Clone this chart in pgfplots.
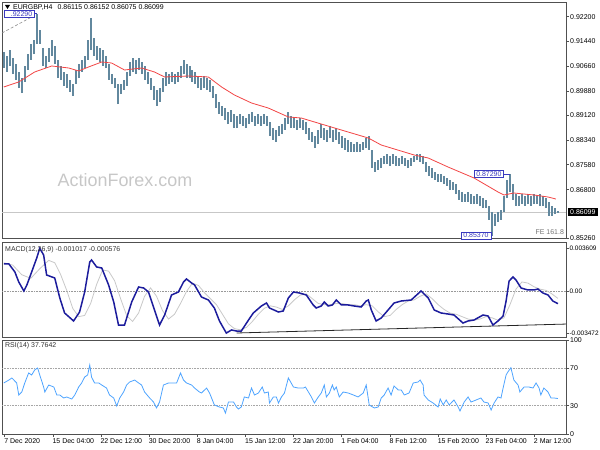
\documentclass[border=0pt]{standalone}
\usepackage{pgfplots}
\pgfplotsset{compat=1.18}
\usepackage{pgfplotstable}
\usepackage{fontspec}
\setmainfont{Liberation Sans}
\definecolor{barcol}{HTML}{62889E}
\definecolor{macol}{HTML}{F24545}
\definecolor{macdcol}{HTML}{1C1C9C}
\definecolor{sigcol}{HTML}{C8C8C8}
\definecolor{rsicol}{HTML}{4DA3FF}
\definecolor{annot}{HTML}{3A3AC0}
\definecolor{framecol}{HTML}{505050}

\pgfplotstableread{
i h l
0 0.91098 0.90598
1 0.90973 0.90474
2 0.91160 0.90661
3 0.90910 0.90411
4 0.90723 0.90224
5 0.90474 0.89974
6 0.90286 0.89818
7 0.90661 0.90162
8 0.91035 0.90536
9 0.91347 0.90848
10 0.91472 0.91035
11 0.92290 0.91347
12 0.91784 0.91347
13 0.91222 0.90661
14 0.90973 0.90598
15 0.91222 0.90786
16 0.91472 0.90973
17 0.91285 0.90723
18 0.90848 0.90286
19 0.90661 0.90224
20 0.90474 0.90037
21 0.90411 0.89974
22 0.90224 0.89850
23 0.90099 0.89725
24 0.90536 0.90099
25 0.90723 0.90286
26 0.90848 0.90474
27 0.90973 0.90598
28 0.91472 0.90848
29 0.92158 0.91160
30 0.91534 0.90973
31 0.91285 0.90848
32 0.91222 0.90786
33 0.91160 0.90661
34 0.90973 0.90598
35 0.90723 0.90224
36 0.90411 0.90099
37 0.90286 0.89974
38 0.90099 0.89475
39 0.90099 0.89787
40 0.90224 0.89912
41 0.90474 0.90037
42 0.90786 0.90349
43 0.90910 0.90474
44 0.90848 0.90411
45 0.90910 0.90536
46 0.90786 0.90411
47 0.90661 0.90224
48 0.90474 0.90099
49 0.90286 0.89912
50 0.90037 0.89600
51 0.89912 0.89413
52 0.89974 0.89538
53 0.90286 0.89850
54 0.90474 0.90037
55 0.90411 0.90099
56 0.90474 0.90162
57 0.90411 0.90099
58 0.90474 0.90162
59 0.90661 0.90286
60 0.90848 0.90411
61 0.90723 0.90286
62 0.90661 0.90286
63 0.90536 0.90162
64 0.90474 0.90099
65 0.90349 0.89974
66 0.90286 0.89912
67 0.90349 0.89974
68 0.90286 0.89912
69 0.90224 0.89850
70 0.90037 0.89662
71 0.89787 0.89350
72 0.89538 0.89163
73 0.89413 0.89101
74 0.89350 0.88976
75 0.89226 0.88851
76 0.89288 0.88914
77 0.89163 0.88726
78 0.89101 0.88726
79 0.89163 0.88851
80 0.89101 0.88789
81 0.89038 0.88726
82 0.89163 0.88851
83 0.89226 0.88914
84 0.89101 0.88789
85 0.89163 0.88851
86 0.89101 0.88789
87 0.89163 0.88851
88 0.89101 0.88789
89 0.88914 0.88477
90 0.88726 0.88352
91 0.88664 0.88290
92 0.88789 0.88477
93 0.88851 0.88539
94 0.89038 0.88664
95 0.89226 0.88851
96 0.89101 0.88726
97 0.89038 0.88726
98 0.88976 0.88664
99 0.89038 0.88726
100 0.88976 0.88664
101 0.88914 0.88539
102 0.88726 0.88352
103 0.88602 0.88290
104 0.88477 0.88102
105 0.88664 0.88227
106 0.88851 0.88414
107 0.88726 0.88352
108 0.88664 0.88290
109 0.88789 0.88414
110 0.88664 0.88290
111 0.88726 0.88352
112 0.88602 0.88227
113 0.88477 0.88102
114 0.88414 0.88040
115 0.88352 0.87978
116 0.88290 0.87978
117 0.88227 0.87978
118 0.88290 0.87978
119 0.88227 0.87978
120 0.88290 0.88040
121 0.88414 0.88102
122 0.88477 0.88040
123 0.88040 0.87478
124 0.87666 0.87354
125 0.87728 0.87416
126 0.87790 0.87478
127 0.87853 0.87603
128 0.87915 0.87603
129 0.87853 0.87541
130 0.87915 0.87603
131 0.87853 0.87541
132 0.87790 0.87541
133 0.87853 0.87603
134 0.87790 0.87541
135 0.87728 0.87478
136 0.87790 0.87541
137 0.87853 0.87666
138 0.87915 0.87728
139 0.87915 0.87666
140 0.87853 0.87603
141 0.87666 0.87354
142 0.87541 0.87229
143 0.87478 0.87166
144 0.87354 0.87104
145 0.87291 0.87042
146 0.87291 0.87042
147 0.87229 0.86979
148 0.87166 0.86917
149 0.87104 0.86792
150 0.87042 0.86792
151 0.86979 0.86667
152 0.86792 0.86480
153 0.86730 0.86418
154 0.86667 0.86418
155 0.86730 0.86418
156 0.86667 0.86355
157 0.86605 0.86355
158 0.86667 0.86355
159 0.86605 0.86293
160 0.86542 0.86230
161 0.86480 0.86230
162 0.86293 0.85856
163 0.86106 0.85370
164 0.86043 0.85669
165 0.86106 0.85794
166 0.86168 0.85856
167 0.86605 0.86106
168 0.87104 0.86542
169 0.87290 0.86730
170 0.86979 0.86480
171 0.86667 0.86293
172 0.86605 0.86293
173 0.86667 0.86355
174 0.86605 0.86293
175 0.86667 0.86355
176 0.86605 0.86293
177 0.86667 0.86355
178 0.86605 0.86355
179 0.86667 0.86293
180 0.86605 0.86293
181 0.86542 0.86230
182 0.86418 0.85981
183 0.86293 0.85981
184 0.86230 0.86043
185 0.86152 0.86075
}\pricedata

\pgfplotstableread{
i v
0 0.90006
5 0.90162
10.3 0.90474
16 0.90661
21.7 0.90598
25 0.90505
28.3 0.90630
32.7 0.90786
36 0.90754
40.3 0.90536
46 0.90598
50.3 0.90474
53.7 0.90318
61.7 0.90349
68.3 0.90318
72.7 0.90006
77 0.89756
82.7 0.89506
88.3 0.89350
95 0.89070
99.3 0.89038
109.3 0.88758
121.7 0.88414
126 0.88196
137 0.87884
141.7 0.87790
148.3 0.87510
157 0.87166
165 0.86730
167 0.86636
170.3 0.86698
177 0.86636
181.7 0.86574
184.3 0.86511
}\madata

\pgfplotstableread{
i v
0 0.002297
1.7 0.002297
3.7 0.001629
5 0.000794
6.7 0.000042
7.7 0.000543
9.3 0.001629
11 0.002799
12 0.003609
13.3 0.003049
14.3 0.001378
17 0.001128
18.7 -0.000543
20.3 -0.001796
23.3 -0.002464
25.3 -0.001713
27 -0.000042
28.7 0.002464
29.3 0.002632
31 0.002047
32.7 0.001963
35 0.000543
36.7 -0.000877
38.3 -0.002799
40.3 -0.002799
42.7 -0.000877
45 0.000376
46.7 0.000292
48.3 -0.000042
50.3 -0.001545
52 -0.002799
53.7 -0.001963
56 -0.000292
58.3 -0.000042
60 0.000794
61 0.001044
62.7 0.000710
63.7 0.000543
66 -0.000459
68.3 -0.000710
70.3 -0.001378
72 -0.002464
74.3 -0.003472
76 -0.003216
77.7 -0.003300
79.3 -0.003300
81.7 -0.002381
83.3 -0.001796
86 -0.001211
87.7 -0.000961
88.7 -0.001378
91.7 -0.001713
93.3 -0.001629
95 -0.000543
96.7 -0.000042
98.7 -0.000125
101 -0.000292
103.3 -0.001128
104.3 -0.001378
106 -0.001211
107 -0.000877
108.3 -0.001211
109.7 -0.001128
111 -0.000710
112.7 -0.001128
115 -0.001128
117 -0.001211
119.3 -0.001295
121 -0.000794
121.7 -0.000710
122.7 -0.001545
124.3 -0.002464
126 -0.002214
128.3 -0.001545
130.3 -0.000961
132.7 -0.000794
136 -0.000710
139.3 0.000042
141.7 -0.000543
143.7 -0.001545
146 -0.001796
148.3 -0.001880
150.3 -0.001963
153.3 -0.002632
155 -0.002464
157 -0.002381
160 -0.001963
161.7 -0.002047
163.3 -0.002799
165 -0.002464
166.7 -0.002047
167.7 -0.000794
168.7 0.000877
170 0.001211
171 0.000961
172.7 0.000292
175 0.000125
177 0.000125
178.3 0.000209
180 -0.000125
181.7 -0.000292
183.3 -0.000794
185 -0.001017
}\macddata

\pgfplotstableread{
i v
0 0.0024
3 0.0022
6 0.0014
9 0.0011
12 0.0019
15 0.0026
17 0.0024
19 0.0014
21 0.0001
23 -0.0014
25 -0.0021
27 -0.0020
29 -0.0010
31 0.0006
33 0.0018
35 0.0017
37 0.0009
39 -0.0006
41 -0.0020
43 -0.0025
45 -0.0018
47 -0.0004
49 0.0003
51 -0.0004
53 -0.0016
55 -0.0023
57 -0.0019
59 -0.0010
61 0.0000
63 0.0007
65 0.0005
67 -0.0001
69 -0.0006
71 -0.0011
73 -0.0019
75 -0.0027
77 -0.0031
79 -0.0032
81 -0.0030
83 -0.0025
85 -0.0019
87 -0.0014
89 -0.0012
91 -0.0013
93 -0.0015
95 -0.0012
97 -0.0007
99 -0.0003
101 -0.0002
103 -0.0006
105 -0.0010
107 -0.0011
109 -0.0011
111 -0.0010
113 -0.0010
115 -0.0011
117 -0.0011
119 -0.0012
121 -0.0011
123 -0.0012
125 -0.0017
127 -0.0021
129 -0.0020
131 -0.0015
133 -0.0011
135 -0.0008
137 -0.0007
139 -0.0004
141 -0.0002
143 -0.0006
145 -0.0011
147 -0.0015
149 -0.0018
151 -0.0019
153 -0.0021
155 -0.0023
157 -0.0024
159 -0.0023
161 -0.0021
163 -0.0022
165 -0.0024
167 -0.0022
169 -0.0011
171 0.0002
173 0.0008
175 0.0007
177 0.0004
179 0.0002
181 0.0001
183 -0.0002
185 -0.000576
}\signaldata

\pgfplotstableread{
i v
0 54.3
1.7 57.4
2.7 59.6
4.3 54.3
5 41.5
6 44.7
7 54.3
8.3 64.9
9.3 62.8
10.3 68.1
11.3 70.2
12 62.8
13.3 50.0
13.7 44.7
15 52.1
16.7 50.0
17.7 41.5
18.7 41.5
20 38.3
21 39.4
22.7 37.2
23.7 41.5
25 50.0
26 54.3
27 60.6
28 62.8
28.7 73.4
29.3 60.6
30.3 54.3
31.7 54.3
32.7 52.1
34.3 48.9
35.3 41.5
36.7 38.3
37.7 29.8
38.7 38.3
40 44.7
41 52.1
42 55.3
43.7 57.4
45 54.3
46 52.1
47 44.7
48.7 38.3
50 34.0
51 27.7
52 34.0
53.3 52.1
55 54.3
56.7 54.3
57.7 54.3
59 64.9
60 57.4
61 54.3
62.7 52.1
63.7 48.9
65.3 44.7
66 43.6
67.7 48.9
68.7 43.6
70.3 30.9
72 28.7
73.3 27.7
74 22.3
75 34.0
76.7 34.0
77.7 28.7
78.3 26.6
79.3 28.7
80.3 39.4
81.7 38.3
82.7 48.9
83.7 41.5
85 43.6
86.3 50.0
87 43.6
88.3 44.7
88.7 33.0
90 39.4
91 39.4
91.7 33.0
92.7 39.4
93.7 43.6
95 59.6
96.7 50.0
98.3 48.9
100 48.9
100.7 50.0
101.7 44.7
102.7 39.4
103.7 33.0
105 39.4
106 43.6
107 52.1
107.7 39.4
108.7 43.6
109.7 52.1
110.3 46.8
111 50.0
112 39.4
113.3 44.7
115 43.6
116.7 41.5
118.3 39.4
120 43.6
121 52.1
122 30.9
123.7 27.7
125 28.7
126 38.3
127 41.5
128.3 48.9
129.3 41.5
130.3 51.1
131.7 46.8
132.7 46.8
133.7 41.5
135.3 43.6
136.7 54.3
138.3 55.3
139 57.4
140 52.1
140.3 41.5
141.7 36.2
143.3 33.0
145 28.7
145.7 37.2
146.7 30.9
147.7 36.2
148.7 30.9
150.3 36.2
151.7 28.7
152.3 24.5
153.7 34.0
155 39.4
156 34.0
157.7 36.2
159.3 38.3
160.3 34.0
161.7 33.0
162.7 25.5
163.7 33.0
165 39.4
166 38.3
166.7 48.9
167.7 62.8
168.3 66.0
169.3 70.5
170.3 57.4
171.7 52.1
172.3 44.7
173.7 50.0
175.3 50.0
176.7 48.9
177.7 54.3
178.7 48.9
179.3 41.5
180.3 48.9
181.7 44.7
182.7 38.3
183.7 38.3
185 37.76
}\rsidata

\pgfplotsset{
  panel/.style={
    scale only axis, width=564bp, xmin=-0.6, xmax=187.7,
    axis line style={framecol, line width=0.8bp},
    tick style={framecol, line width=0.6bp},
    tick align=outside, major tick length=3bp,
    ytick pos=right, yticklabel pos=right,
    tick label style={font=\fontsize{7}{8}\selectfont, text=black},
    yticklabel style={inner xsep=1bp},
    scaled y ticks=false, clip=false,
  },
}
\tikzset{
  boxnode/.style={draw=annot, fill=white, text=annot, line width=0.6bp,
    inner xsep=2.2bp, inner ysep=1.2bp, font=\fontsize{7}{8}\selectfont},
}

\begin{document}
\begin{tikzpicture}
\useasboundingbox (0,0) rectangle (600bp,450bp);

\node[font=\fontsize{18}{20}\selectfont, text=black!22] at (125bp,270bp) {ActionForex.com};

% ---------------- price panel
\begin{axis}[panel, at={(2bp,212bp)}, anchor=south west, height=236bp,
  ymin=0.852944, ymax=0.926576, xtick=\empty,
  ytick={0.922,0.9144,0.9066,0.8988,0.8912,0.8834,0.8758,0.868},
  yticklabels={0.92200,0.91440,0.90660,0.89880,0.89120,0.88340,0.87580,0.86800},
  extra y ticks={0.85295}, extra y tick labels={0.85260},
]
\addplot[black!22, line width=0.6bp, forget plot] coordinates {(-0.6,0.86099) (187.7,0.86099)};
\addplot[black!45, densely dashed, line width=0.6bp, forget plot] coordinates {(-0.6,0.9169) (9.5,0.9220)};
\addplot[draw=none, mark=none,
  error bars/.cd, y dir=plus, y explicit, error mark=none,
  error bar style={draw=barcol, line width=2bp}]
  table[x=i, y=l, y error expr=\thisrow{h}-\thisrow{l}] {\pricedata};
\addplot[macol, line width=0.8bp] table[x=i, y=v] {\madata};
\draw[annot, line width=0.6bp] (axis cs:10.3,0.9229) -- (axis cs:11,0.9229);
\node[boxnode, anchor=east, text width=26bp, align=right] at (axis cs:10.3,0.9229) {.92290};
\draw[annot, line width=0.6bp] (axis cs:167,0.8729) -- (axis cs:169,0.8729);
\node[boxnode, anchor=east] at (axis cs:167,0.8729) {0.87290};
\node[boxnode, anchor=east] at (axis cs:162.7,0.8537) {0.85370};
\node[anchor=east, text=black!55, font=\fontsize{7}{8}\selectfont, inner sep=1bp] at (axis cs:187.4,0.85482) {FE 161.8};
\node[anchor=west, fill=black, text=white, font=\fontsize{7}{8}\selectfont, inner xsep=2.5bp, inner ysep=1.5bp] at (axis cs:188.2,0.86099) {0.86099};
\end{axis}

% ---------------- MACD panel
\begin{axis}[panel, at={(2bp,113bp)}, anchor=south west, height=95bp,
  ymin=-0.003801, ymax=0.004135, xtick=\empty,
  ytick={-0.003472,0,0.003609},
  yticklabels={-0.003472,0.00,0.003609},
  yticklabel style={font=\fontsize{6.5}{8}\selectfont, inner xsep=0.3bp},
]
\addplot[black!40, densely dotted, line width=0.6bp] coordinates {(-0.6,0) (187.7,0)};
\addplot[black!85, line width=0.8bp] coordinates {(77.7,-0.003467) (187.7,-0.00272)};
\addplot[sigcol, line width=0.8bp] table[x=i, y=v] {\signaldata};
\addplot[macdcol, line width=1.5bp] table[x=i, y=v] {\macddata};
\end{axis}

% ---------------- RSI panel
\begin{axis}[panel, at={(2bp,16bp)}, anchor=south west, height=94bp,
  ymin=0, ymax=100,
  ytick={0,30,70,100}, yticklabels={0,30,70,100},
  xtick pos=left,
  xtick={0.3,16.4,32.4,48.5,64.6,80.7,96.7,112.8,128.9,145.0,161.0,177.1},
  xticklabels={7 Dec 2020,15 Dec 04:00,22 Dec 12:00,30 Dec 20:00,8 Jan 04:00,15 Jan 12:00,22 Jan 20:00,1 Feb 04:00,8 Feb 12:00,15 Feb 20:00,23 Feb 04:00,2 Mar 12:00},
  xticklabel style={anchor=north west, xshift=-1.5bp, inner sep=1bp},
]
\addplot[black!35, densely dotted, line width=0.6bp] coordinates {(-0.6,30) (187.7,30)};
\addplot[black!35, densely dotted, line width=0.6bp] coordinates {(-0.6,70) (187.7,70)};
\addplot[rsicol, line width=0.8bp] table[x=i, y=v] {\rsidata};
\end{axis}

% ---------------- texts
\fill[black] (5bp,445bp) -- (10bp,445bp) -- (7.5bp,441bp) -- cycle;
\node[anchor=west, inner sep=0pt, font=\fontsize{7}{8}\selectfont] at (13bp,442bp) {EURGBP,H4\hspace{5bp}0.86115 0.86152 0.86075 0.86099};
\node[anchor=west, inner sep=0pt, font=\fontsize{7}{8}\selectfont, text=black!80] at (5bp,200bp) {MACD(12,26,9) -0.001017 -0.000576};
\node[anchor=west, inner sep=0pt, font=\fontsize{7}{8}\selectfont, text=black!80] at (5bp,104bp) {RSI(14) 37.7642};
\end{tikzpicture}
\end{document}
